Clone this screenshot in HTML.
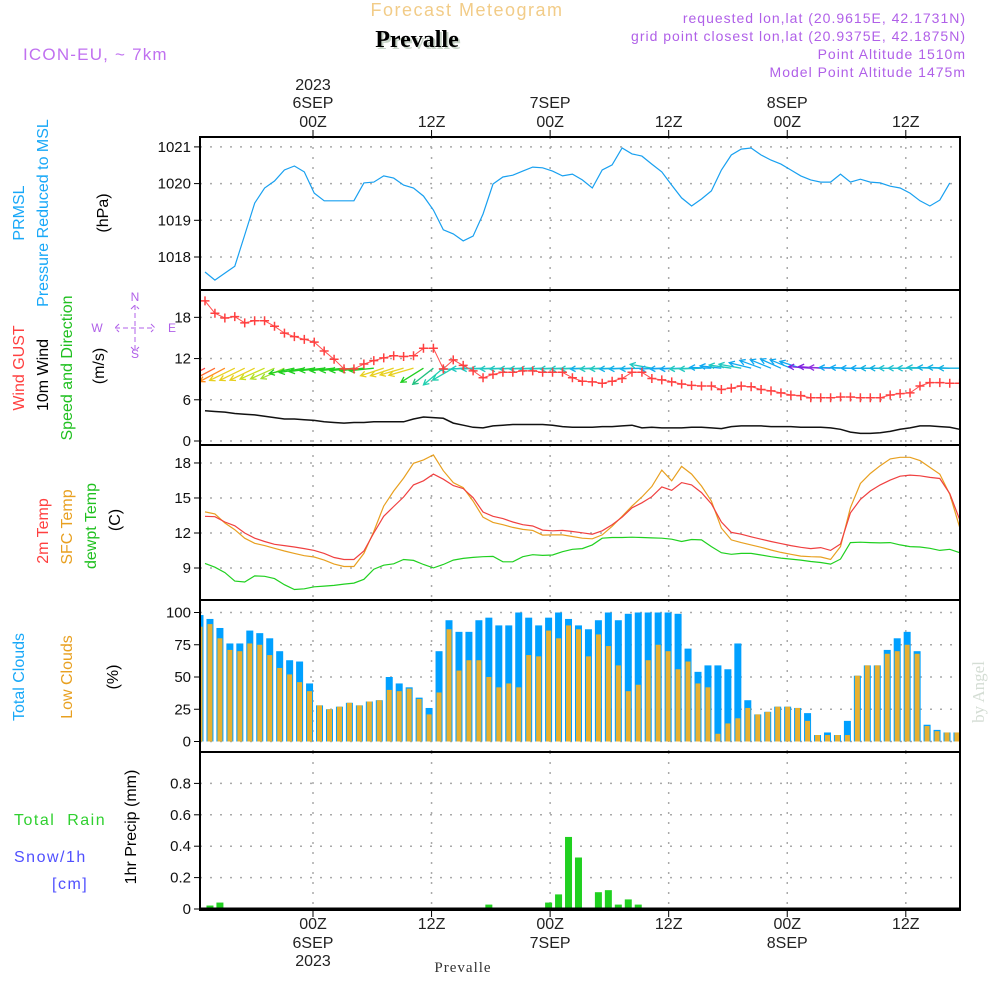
<!DOCTYPE html>
<html><head><meta charset="utf-8"><style>
html,body{margin:0;padding:0;background:#fff;}
svg{display:block;font-family:"Liberation Sans",sans-serif;}
</style></head><body>
<svg id="chart" width="1000" height="1000" viewBox="0 0 1000 1000" xmlns="http://www.w3.org/2000/svg">
<defs><clipPath id="plotclip"><rect x="200" y="137" width="760" height="775"/></clipPath></defs>
<rect width="1000" height="1000" fill="#fff"/>
<text x="467" y="16" text-anchor="middle" font-size="18" fill="#f2cc88" letter-spacing="1.5">Forecast Meteogram</text>
<text x="419" y="49" text-anchor="middle" font-family="'Liberation Serif',serif" font-weight="bold" font-size="24" fill="#c8d4c8">Prevalle</text>
<text x="417" y="47" text-anchor="middle" font-family="'Liberation Serif',serif" font-weight="bold" font-size="24" fill="#000">Prevalle</text>
<text x="23" y="60" font-size="17" fill="#c070f0" letter-spacing="1.2">ICON-EU, ~ 7km</text>
<g font-size="14" fill="#b060e8" text-anchor="end" letter-spacing="1">
<text x="966" y="23">requested lon,lat (20.9615E, 42.1731N)</text>
<text x="966" y="41">grid point closest lon,lat (20.9375E, 42.1875N)</text>
<text x="966" y="59">Point Altitude 1510m</text>
<text x="966" y="77">Model Point Altitude 1475m</text>
</g>
<text transform="translate(984,692) rotate(-90)" text-anchor="middle" font-family="'Liberation Serif',serif" font-size="17" fill="#d4ddd4">by Angel</text>
<text x="463" y="972" text-anchor="middle" font-family="'Liberation Serif',serif" font-size="15" fill="#333" letter-spacing="1">Prevalle</text>
<g id="grid"></g>
<g id="marks" clip-path="url(#plotclip)"></g>
<g id="frames"></g>
<g id="labels" font-size="16"></g>
</svg>
<script>
// ---------- data (hourly, index 0 = 13Z 5 SEP) ----------
const tickHours = [0, 12, 24, 36, 48, 60];
const tickHourLabels = ["00Z", "12Z", "00Z", "12Z", "00Z", "12Z"];
const dayLabels = ["6SEP", "", "7SEP", "", "8SEP", ""];
const pressureTicks = [1018, 1019, 1020, 1021];
const windTicks = [0, 6, 12, 18];
const tempTicks = [9, 12, 15, 18];
const cloudTicks = [0, 25, 50, 75, 100];
const precipTicks = [0, 0.2, 0.4, 0.6, 0.8];
const pressure = [1017.59,1017.37,1017.56,1017.75,1018.60,1019.47,1019.88,1020.07,1020.37,1020.48,1020.32,1019.74,1019.53,1019.53,1019.53,1019.53,1020.02,1020.04,1020.21,1020.15,1019.96,1019.88,1019.66,1019.28,1018.74,1018.63,1018.44,1018.57,1019.17,1019.99,1020.18,1020.23,1020.34,1020.45,1020.43,1020.34,1020.21,1020.26,1020.10,1019.88,1020.37,1020.51,1020.97,1020.81,1020.75,1020.53,1020.32,1019.96,1019.61,1019.39,1019.58,1019.80,1020.37,1020.78,1020.94,1020.97,1020.78,1020.64,1020.53,1020.37,1020.21,1020.10,1020.04,1020.04,1020.26,1020.04,1020.12,1020.04,1020.02,1019.93,1019.88,1019.74,1019.53,1019.39,1019.55,1020.02];
const gust = [20.4,18.6,17.9,18.1,17.2,17.5,17.5,16.7,15.7,15.2,14.8,14.4,13.1,11.9,10.5,10.5,11.2,11.7,12.1,12.4,12.3,12.4,13.5,13.5,10.5,11.8,11.0,10.2,9.2,9.7,10.0,10.0,10.2,10.2,10.0,10.0,10.0,9.2,8.7,8.6,8.4,8.7,9.1,10.0,10.0,9.1,8.9,8.6,8.3,8.1,8.0,8.0,7.5,7.7,8.0,7.9,7.5,7.3,7.0,6.7,6.6,6.3,6.3,6.3,6.4,6.4,6.3,6.3,6.3,6.7,6.9,7.0,8.0,8.5,8.5,8.4,8.4];
const windSpeed = [4.4,4.3,4.2,4.0,3.9,3.8,3.6,3.4,3.2,3.2,3.1,3.0,2.8,2.7,2.6,2.7,2.7,2.8,2.8,2.8,2.8,3.2,3.5,3.4,3.3,2.6,2.3,2.0,1.9,2.2,2.3,2.4,2.4,2.4,2.4,2.3,2.1,2.0,2.0,2.0,2.1,2.1,2.2,2.3,1.9,2.0,1.9,1.9,1.9,2.0,2.0,1.9,1.8,2.1,2.2,2.2,2.2,2.1,2.1,2.1,2.0,2.0,2.0,1.9,1.7,1.3,1.1,1.1,1.2,1.4,1.7,1.9,2.2,2.2,2.1,2.0,1.7];
const windDir = [62,62,62,64,64,64,66,66,66,78,80,82,84,84,84,84,84,84,72,72,74,74,58,52,50,60,86,88,88,88,88,88,88,88,88,88,88,88,88,88,88,88,88,88,88,100,88,88,88,88,88,92,96,98,100,104,110,112,114,112,108,94,94,92,92,92,90,90,90,90,90,90,90,92,92,92,90];
const windColor = ["#ff4848","#ff6a30","#ff8c20","#e8d020","#e8d020","#e8d020","#c8e020","#b0e028","#a0e030","#20d020","#20d020","#20d020","#20d020","#20d020","#20d020","#20d020","#20d020","#20d020","#e8d020","#e8d020","#e8d020","#e8d020","#20d020","#20c080","#20d0b0","#20d0b0","#20c8c0","#20c8c0","#20c8c0","#20c8c0","#20c8c0","#20c8c0","#20c8c0","#20c8c0","#20c8c0","#20c8c0","#20c8c0","#20c8c0","#20c8c0","#10b0e8","#20c8c0","#20c8c0","#10b0e8","#10b0e8","#10b0e8","#20c8c0","#10a8f0","#10a8f0","#10a8f0","#20c8c0","#20c8c0","#10a8f0","#10a8f0","#20c8c0","#20c8c0","#10a8f0","#10a8f0","#10a8f0","#10a8f0","#10a8f0","#10a8f0","#8020e0","#8020e0","#9030e0","#10a8f0","#10a8f0","#10a8f0","#10a8f0","#10b0e0","#10b0e0","#20c0d0","#20c0d0","#20c0d0","#20c0d0","#10b0e0","#10b0e0","#10b0e0"];
const temp2m = [13.43,13.4,12.94,12.62,12.0,11.55,11.27,11.03,10.92,10.8,10.66,10.51,10.25,9.9,9.73,9.73,10.46,12.0,13.43,14.27,15.08,16.12,16.47,17.05,16.61,16.06,15.8,15.02,13.8,13.43,13.23,12.94,12.71,12.6,12.25,12.19,12.22,12.13,12.02,11.9,12.19,12.71,13.35,14.16,14.59,15.11,15.95,15.66,16.32,16.12,15.46,14.5,12.94,12.05,11.9,11.67,11.47,11.27,11.09,10.92,10.77,10.66,10.75,10.51,11.06,13.72,14.88,15.6,16.12,16.53,16.87,16.96,16.9,16.76,16.67,15.37,13.14];
const tempSfc = [13.81,13.64,12.86,12.28,11.55,11.12,10.92,10.69,10.46,10.25,10.05,9.94,9.68,9.33,9.13,9.13,10.25,12.13,14.3,15.6,16.7,17.97,18.26,18.69,17.34,16.32,15.89,14.73,13.35,12.91,12.71,12.48,12.31,12.22,11.82,11.84,11.84,11.7,11.55,11.5,11.84,12.57,13.43,14.3,15.08,15.98,17.39,16.47,17.71,17.05,16.03,14.73,12.42,11.41,11.18,10.98,10.77,10.54,10.34,10.17,10.02,9.97,9.94,9.73,10.83,14.16,16.24,17.1,17.77,18.35,18.49,18.49,18.2,17.62,17.05,15.31,12.48];
const dewpt = [9.39,9.07,8.61,7.88,7.8,8.32,8.29,8.09,7.57,7.16,7.22,7.39,7.45,7.51,7.62,7.71,8.03,8.9,9.24,9.36,9.73,9.65,9.3,9.01,9.3,9.68,9.82,9.91,9.97,9.99,9.53,9.53,9.97,10.14,10.08,10.11,10.4,10.6,10.66,10.98,11.55,11.61,11.61,11.64,11.61,11.58,11.55,11.47,11.27,11.44,11.41,10.83,10.31,10.17,10.25,10.25,10.11,9.97,9.85,9.76,9.68,9.56,9.47,9.33,9.76,11.18,11.21,11.18,11.15,11.18,10.98,10.83,10.8,10.69,10.51,10.6,10.31];
const totalClouds = [98,95,88,76,76,86,84,80,70,63,62,45,28,25,27,30,28,31,32,50,45,42,34,26,70,94,85,85,94,96,90,90,100,96,90,96,100,95,90,87,94,100,94,99,100,100,100,100,99,72,54,59,59,56,76,32,21,23,27,27,26,22,5,7,5,16,51,59,59,71,80,85,70,13,9,7,7];
const lowClouds = [89,91,80,71,70,76,75,67,57,52,46,39,28,25,27,30,28,31,32,40,39,41,33,21,38,87,55,63,63,50,42,45,42,67,66,86,80,90,87,66,83,74,59,39,44,63,75,70,56,62,45,42,6,14,18,26,21,23,27,27,26,16,5,5,5,5,51,59,59,68,70,75,68,12,8,7,7];
const precip = [0,0.022,0.041,0.009,0,0.009,0,0.004,0,0,0,0,0,0,0,0,0,0,0,0,0,0,0,0,0,0,0,0.009,0.009,0.028,0,0,0,0.009,0,0.041,0.093,0.459,0.328,0,0.107,0.12,0.028,0.061,0.028,0.009,0,0,0,0,0,0,0,0,0,0,0,0,0,0,0,0,0,0,0,0,0,0,0,0,0,0,0,0,0,0,0];

// ---------- scales ----------
const NS = "http://www.w3.org/2000/svg";
const X0 = 200, X1 = 960;
const xLine = i => 205 + i * 9.93;
const xBar = i => 200 + i * 9.96;
const xHour = h => 313 + h * 9.88;
const yP = v => 257 - (v - 1018) * 36.7;
const yW = v => 441 - v * 6.87;
const yT = v => 568 - (v - 9) * 11.67;
const yC = v => 741.5 - v * 1.29;
const yR = v => 909 - v * 157;
const panels = [[137,290],[290,445],[445,600],[600,752],[752,910]];

function mk(tag, attrs, parent) {
  const el = document.createElementNS(NS, tag);
  for (const k in attrs) el.setAttribute(k, attrs[k]);
  parent.appendChild(el);
  return el;
}
const grid = document.getElementById('grid');
const marks = document.getElementById('marks');
const frames = document.getElementById('frames');
const labels = document.getElementById('labels');

tickHours.forEach((h, k) => {
  const x = xHour(h);
  panels.forEach(p => {
    const g = mk('line', {x1:x, x2:x, y1:p[0], y2:p[1], stroke:'#aaa', 'stroke-width':1.5, 'stroke-dasharray':'2,8'}, grid);
    
    
  });
  const tt = mk('line', {x1:x, x2:x, y1:130, y2:137, stroke:'#000', 'stroke-width':1}, frames);
  
  
  const tb = mk('line', {x1:x, x2:x, y1:910, y2:917, stroke:'#000', 'stroke-width':1}, frames);
  
  
  const t1 = mk('text', {x:x, y:127, 'text-anchor':'middle', fill:'#222'}, labels);
  t1.textContent = tickHourLabels[k];
  
  
  const t2 = mk('text', {x:x, y:929, 'text-anchor':'middle', fill:'#222'}, labels);
  t2.textContent = tickHourLabels[k];
  
  
  if (dayLabels[k]) {
    const d1 = mk('text', {x:x, y:108, 'text-anchor':'middle', fill:'#222'}, labels);
    d1.textContent = dayLabels[k];
    
    
    const d2 = mk('text', {x:x, y:948, 'text-anchor':'middle', fill:'#222'}, labels);
    d2.textContent = dayLabels[k];
    
    
  }
  if (k === 0) {
    const y1 = mk('text', {x:x, y:90, 'text-anchor':'middle', fill:'#222'}, labels);
    y1.textContent = '2023';
    
    
    const y2 = mk('text', {x:x, y:966, 'text-anchor':'middle', fill:'#222'}, labels);
    y2.textContent = '2023';
    
    
  }
});

function yAxis(ticks, yf, fmt, name) {
  ticks.forEach(v => {
    const y = yf(v);
    const g = mk('line', {x1:X0, x2:X1, y1:y, y2:y, stroke:'#aaa', 'stroke-width':1.5, 'stroke-dasharray':'2,8'}, grid);
    
    
    const t = mk('line', {x1:194, x2:200, y1:y, y2:y, stroke:'#000', 'stroke-width':1}, frames);
    
    
    const l = mk('text', {x:191, y:y + 5, 'text-anchor':'end', fill:'#111', 'font-size':15}, labels);
    l.textContent = fmt(v);
    
    
  });
}
yAxis(pressureTicks, yP, v => String(v), 'pressure-axis');
yAxis(windTicks, yW, v => String(v), 'wind-axis');
yAxis(tempTicks, yT, v => String(v), 'temp-axis');
yAxis(cloudTicks, yC, v => String(v), 'cloud-axis');
yAxis(precipTicks, yR, v => v === 0 ? '0' : v.toFixed(1), 'precip-axis');

function path(vals, xf, yf, color, name, w) {
  const d = vals.map((v, i) => (i ? 'L' : 'M') + xf(i).toFixed(1) + ',' + yf(v).toFixed(1)).join('');
  const p = mk('path', {d:d, fill:'none', stroke:color, 'stroke-width':w || 1.2}, marks);
  
  
}
path(pressure, xLine, yP, '#18a0f0', 'pressure-line');
path(windSpeed, xLine, yW, '#111', 'wind-speed-line', 1.5);
windDir.forEach((dir, i) => {
  const L = 16 + windSpeed[i] * 3, r = dir * Math.PI / 180;
  const x0 = xLine(i), y0 = yW(10.6);
  const dx = -Math.sin(r) * L, dy = Math.cos(r) * L;
  const x1 = x0 + dx, y1 = y0 + dy;
  const a = Math.atan2(dy, dx);
  const h1x = x1 - 6 * Math.cos(a - 0.5), h1y = y1 - 6 * Math.sin(a - 0.5);
  const h2x = x1 - 6 * Math.cos(a + 0.5), h2y = y1 - 6 * Math.sin(a + 0.5);
  const p = mk('path', {d:`M${x0},${y0}L${x1},${y1}M${h1x},${h1y}L${x1},${y1}L${h2x},${h2y}`, fill:'none', stroke:windColor[i], 'stroke-width':1.3}, marks);
  
  
});
path(gust, xLine, yW, '#ff5050', 'gust-line', 1);
gust.forEach((v, i) => {
  const x = xLine(i), y = yW(v);
  const p = mk('path', {d:`M${x-4.5},${y}H${x+4.5}M${x},${y-4.5}V${y+4.5}`, stroke:'#ff4040', 'stroke-width':1.5}, marks);
  
  
});
path(tempSfc, xLine, yT, '#e8a020', 'sfc-temp-line');
path(temp2m, xLine, yT, '#f04040', '2m-temp-line');
path(dewpt, xLine, yT, '#20d020', 'dewpoint-line');
totalClouds.forEach((v, i) => {
  const b = mk('rect', {x:xBar(i) - 3.5, y:yC(v), width:7, height:yC(0) - yC(v), fill:'#00a0ff'}, marks);
  
  
});
lowClouds.forEach((v, i) => {
  const b = mk('rect', {x:xBar(i) - 2.5, y:yC(v), width:5, height:yC(0) - yC(v), fill:'#e8b030'}, marks);
  
  
});
precip.forEach((v, i) => {
  if (v <= 0) return;
  const b = mk('rect', {x:xBar(i) - 3.5, y:yR(v), width:7, height:yR(0) - yR(v), fill:'#20d020'}, marks);
  
  
});
panels.forEach(p => {
  const r = mk('rect', {x:X0, y:p[0], width:X1 - X0, height:p[1] - p[0], fill:'none', stroke:'#000', 'stroke-width':2}, frames);
  
  
});
const base = mk('line', {x1:X0, x2:X1, y1:909, y2:909, stroke:'#000', 'stroke-width':3}, frames);



const rot = [
  ['PRMSL', 18, 213, '#18a8f8', 'pressure-title'],
  ['Pressure Reduced to MSL', 42, 213, '#18a8f8', 'pressure-subtitle'],
  ['(hPa)', 102, 213, '#000', 'pressure-unit'],
  ['Wind GUST', 18, 368, '#ff4040', 'gust-title'],
  ['10m Wind', 42, 375, '#000', 'wind-title'],
  ['Speed and Direction', 66, 368, '#20c020', 'wind-subtitle'],
  ['(m/s)', 98, 366, '#000', 'wind-unit'],
  ['2m Temp', 42, 531, '#ff4040', 'temp2m-title'],
  ['SFC Temp', 66, 527, '#e8a020', 'sfc-temp-title'],
  ['dewpt Temp', 90, 526, '#20c020', 'dewpoint-title'],
  ['(C)', 114, 520, '#000', 'temp-unit'],
  ['Total Clouds', 18, 677, '#18a8f8', 'total-clouds-title'],
  ['Low Clouds', 66, 677, '#e8a020', 'low-clouds-title'],
  ['(%)', 112, 677, '#000', 'cloud-unit'],
  ['1hr Precip (mm)', 130, 827, '#000', 'precip-title']
];
rot.forEach(r => {
  const t = mk('text', {transform:`translate(${r[1] + 6},${r[2]}) rotate(-90)`, 'text-anchor':'middle', fill:r[3], 'font-size':16}, labels);
  t.textContent = r[0];
  
  
});
const hz = [
  ['Total  Rain', 14, 825, '#30d030', 'rain-label'],
  ['Snow/1h', 14, 862, '#5050ff', 'snow-label'],
  ['[cm]', 52, 889, '#5050ff', 'snow-unit']
];
hz.forEach(r => {
  const t = mk('text', {x:r[1], y:r[2], fill:r[3], 'font-size':16, 'letter-spacing':'1.5'}, labels);
  t.textContent = r[0];
  t.style.whiteSpace = 'pre';
  
  
});
const cg = mk('g', {fill:'#b060e8', 'font-size':12, 'text-anchor':'middle'}, labels);


[['N',135,301],['S',135,358],['W',97,332],['E',172,332]].forEach(c => {
  const t = mk('text', {x:c[1], y:c[2]}, cg);
  t.textContent = c[0];
  
  
});
const cp = mk('path', {d:'M115,328H155M119,324L115,328L119,332M151,324L155,328L151,332M135,305V351M131,309L135,305L139,309M131,347L135,351L139,347', stroke:'#b060e8', 'stroke-width':1, fill:'none', 'stroke-dasharray':'5,3'}, cg);


</script>
</body></html>
